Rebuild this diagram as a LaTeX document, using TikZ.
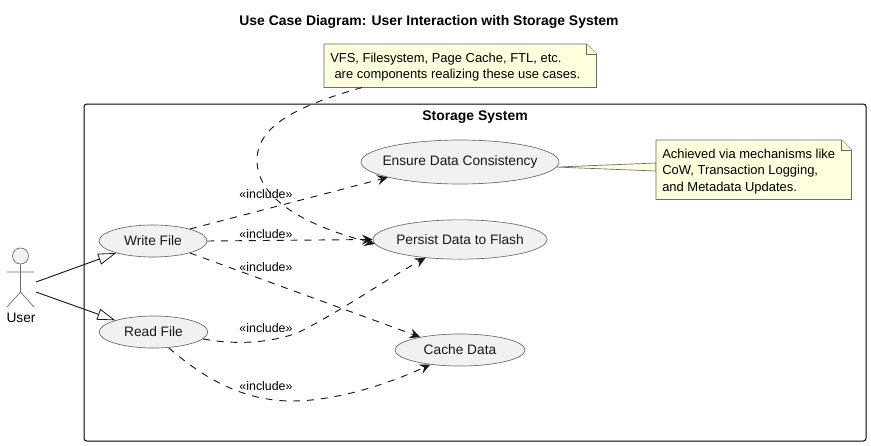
\documentclass[tikz,border=0pt]{standalone}
\usepackage{fontspec}
\setmainfont{Liberation Sans}
\usetikzlibrary{arrows.meta,calc,shapes.geometric}
\definecolor{ink}{HTML}{181818}
\definecolor{edge}{HTML}{6A6A6A}
\definecolor{ufill}{HTML}{F1F1F1}
\definecolor{nfill}{HTML}{FEFFDD}
\newcommand{\zw}[1]{\makebox[0pt][c]{#1}}
\tikzset{
  usecase/.style={ellipse,draw=edge,fill=ufill,line width=.5pt,inner sep=0pt,text=ink,font=\fontsize{10.3}{12}\selectfont},
  includeedge/.style={draw=ink,line width=.7pt,dash pattern=on 5.2pt off 5.2pt,-{Stealth[length=8pt,width=7.5pt,inset=3pt]}},
  generaledge/.style={draw=ink,line width=.7pt,-{Triangle[open,fill=white,length=13.5pt,width=8.5pt,line width=.6pt]}},
  includelabel/.style={font=\fontsize{9.3}{11}\selectfont,text=black,inner sep=0pt},
  notetext/.style={font=\fontsize{9.72}{12.4}\selectfont,align=left,inner sep=0pt,text=black},
  noteframe/.style={draw=edge,fill=nfill,line width=.5pt},
  boldtext/.style={font=\fontsize{10.45}{12}\selectfont\bfseries,inner sep=0pt,text=black}
}
\begin{document}
\begin{tikzpicture}[x=.75pt,y=-.75pt]
\useasboundingbox[fill=white] (0,0) rectangle (871,446);
\node[boldtext] (title) at (429,21.5) {Use Case Diagram: User Interaction with Storage System};
\draw[draw=black,line width=.75pt,rounded corners=2pt] (84,104) rectangle (866,441);
\node[boldtext] (sys) at (475,117) {Storage System};

\node[usecase,minimum width=81pt,minimum height=24pt] (w) at (153,241) {\zw{Write File}};
\node[usecase,minimum width=81.5pt,minimum height=24pt] (r) at (153.5,332) {\zw{Read File}};
\node[usecase,minimum width=148.5pt,minimum height=33pt] (e) at (460,162) {\zw{Ensure Data Consistency}};
\node[usecase,minimum width=130.5pt,minimum height=29.5pt] (p) at (460,239.5) {\zw{Persist Data to Flash}};
\node[usecase,minimum width=97.5pt,minimum height=24pt] (c) at (460,350) {\zw{Cache Data}};

% actor
\node[circle,draw=edge,fill=ufill,line width=.5pt,minimum size=12pt,inner sep=0pt] (head) at (20.5,256) {};
\coordinate (hip) at (20.5,292);
\coordinate (armL) at (7,272);
\coordinate (armR) at (34,272);
\coordinate (legL) at (7,307);
\coordinate (legR) at (34,307);
\draw[draw=edge,line width=.5pt] (head.south) -- (hip) (armL) -- (armR) (legL) -- (hip) -- (legR);
\node[font=\fontsize{10.3}{12}\selectfont,inner sep=0pt] (user) at (21,318) {User};
\coordinate (ua) at (36,282);
\coordinate (ub) at (36,292);
\draw[generaledge] (ua) -- (w.198);
\draw[generaledge] (ub) -- (r.163);

% notes
\node[notetext,anchor=north west,minimum width=204pt,minimum height=32.25pt,text depth=0pt] (n1) at (324,44) {};
\coordinate (n1f) at ($(n1.north east)+(-10,0)$);
\coordinate (n1g) at ($(n1.north east)+(0,10)$);
\draw[noteframe] (n1.north west) -- (n1f) -- (n1g) -- (n1.south east) -- (n1.south west) -- cycle;
\draw[noteframe] (n1f) -- (n1f |- n1g) -- (n1g);
\node[notetext,anchor=west] (n1t) at (330,67) {VFS, Filesystem, Page Cache, FTL, etc.\\\hspace*{3.2pt}are components realizing these use cases.};

\coordinate (n2a) at (656,163);
\coordinate (n2b) at (656,171);
\draw[noteframe] (e.-3) -- (n2a) -- (n2b) -- cycle;
\node[notetext,anchor=north west,minimum width=146.25pt,minimum height=44.25pt] (n2) at (656,140) {};
\coordinate (n2f) at ($(n2.north east)+(-10,0)$);
\coordinate (n2g) at ($(n2.north east)+(0,10)$);
\draw[noteframe] (n2.north west) -- (n2f) -- (n2g) -- (n2.south east) -- (n2.south west) -- cycle;
\draw[noteframe] (n2f) -- (n2f |- n2g) -- (n2g);
\node[notetext,anchor=west] (n2t) at (662,171.5) {Achieved via mechanisms like\\CoW, Transaction Logging,\\and Metadata Updates.};

% include edges
\draw[includeedge] (w.18) -- (e.192);
\draw[includeedge] (w.0) -- (p.180);
\draw[includeedge] (w.-18) -- (c.162);
\draw[includeedge] (r.-8) .. controls (235,345) and (270,343) .. (297,333) .. controls (335,315) and (385,280) .. (p.208);
\draw[includeedge] (r.-46) .. controls (200,375) and (240,401) .. (292,401) .. controls (340,401) and (395,381) .. (c.206.6);
\draw[includeedge] ($(n1.south west)+(38,0)$) .. controls (300,105) and (257,125) .. (257,160) .. controls (257,205) and (320,229) .. (p.183);

% labels
\node[includelabel] (l1) at (266,194) {«include»};
\node[includelabel] (l2) at (266,234) {«include»};
\node[includelabel] (l3) at (266,267) {«include»};
\node[includelabel] (l4) at (266,328) {«include»};
\node[includelabel] (l5) at (266,386) {«include»};
\end{tikzpicture}
\end{document}
